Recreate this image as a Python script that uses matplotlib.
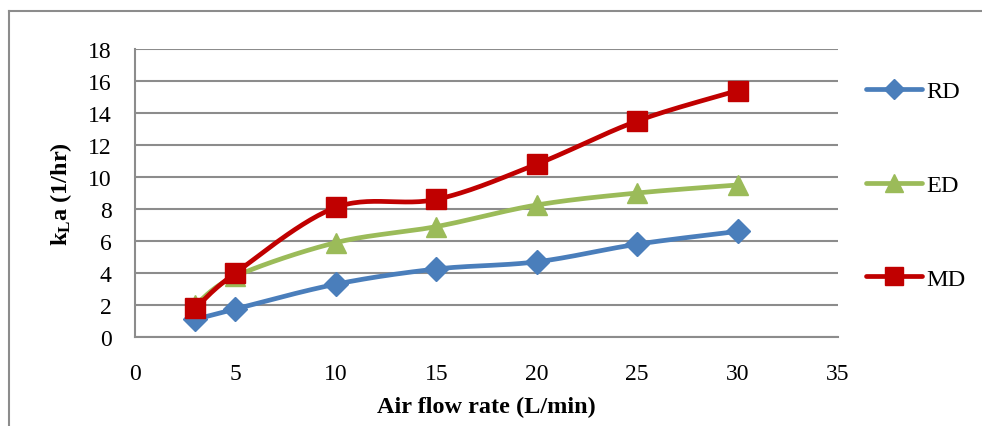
import numpy as np
import matplotlib
matplotlib.use("Agg")
import matplotlib.pyplot as plt
from matplotlib.lines import Line2D

# ---- data ----
air_flow = [3, 5, 10, 15, 20, 25, 30]
rd = [1.1, 1.75, 3.3, 4.25, 4.7, 5.8, 6.6]
ed = [2.0, 3.8, 5.9, 6.9, 8.25, 9.0, 9.5]
md = [1.8, 4.0, 8.1, 8.6, 10.8, 13.5, 15.4]
series_names = ["RD", "ED", "MD"]
x_ticks = [0, 5, 10, 15, 20, 25, 30, 35]
y_ticks = [0, 2, 4, 6, 8, 10, 12, 14, 16, 18]

colors = ["#4A7EBB", "#9BBB59", "#C00000"]
markers = ["D", "^", "s"]
msizes = [12, 15, 15]

plt.rcParams['font.family'] = ['Liberation Serif', 'DejaVu Serif']
plt.rcParams['mathtext.fontset'] = 'custom'
plt.rcParams['mathtext.rm'] = 'Liberation Serif:bold'
plt.rcParams['mathtext.it'] = 'Liberation Serif:bold'
plt.rcParams['mathtext.bf'] = 'Liberation Serif:bold'


def smooth(xs, ys, n=30):
    """Excel-like smoothing: cubic Bezier with Catmull-Rom control points."""
    P = np.column_stack([xs, ys]).astype(float)
    out = []
    m = len(P)
    for i in range(m - 1):
        p0 = P[i - 1] if i > 0 else P[i]
        p1 = P[i]
        p2 = P[i + 1]
        p3 = P[i + 2] if i + 2 < m else P[i + 1]
        c1 = p1 + (p2 - p0) / 6.0
        c2 = p2 - (p3 - p1) / 6.0
        t = np.linspace(0, 1, n)[:, None]
        seg = ((1 - t) ** 3) * p1 + 3 * ((1 - t) ** 2) * t * c1 + 3 * (1 - t) * t ** 2 * c2 + t ** 3 * p2
        out.append(seg if i == 0 else seg[1:])
    S = np.vstack(out)
    return S[:, 0], S[:, 1]


fig = plt.figure(figsize=(9.82, 4.27), dpi=100)
ax = fig.add_axes([135 / 982, (427 - 338) / 427, (838 - 135) / 982, (338 - 50) / 427])

handles = []
for name, ys, c, mk, ms in zip(series_names, [rd, ed, md], colors, markers, msizes):
    sx, sy = smooth(air_flow, ys)
    ax.plot(sx, sy, color=c, lw=3.4, solid_capstyle='round', zorder=3)
    ax.plot(air_flow, ys, linestyle='none', marker=mk, markersize=ms,
            color=c, markeredgecolor=c, zorder=4)
    handles.append(Line2D([], [], color=c, lw=3.4, marker=mk, markersize=ms - 2,
                          markeredgecolor=c, solid_capstyle='round', label=name))

ax.set_xlim(0, 35)
ax.set_ylim(0, 18)
ax.set_xticks(x_ticks)
ax.set_yticks(y_ticks)
ax.tick_params(axis='both', length=0, labelsize=17)
ax.tick_params(axis='x', pad=19)
ax.tick_params(axis='y', pad=17)
ax.grid(axis='y', color='#8c8c8c', lw=1.5, zorder=0)
ax.set_axisbelow(True)
for s in ['top', 'right']:
    ax.spines[s].set_visible(False)
for s in ['left', 'bottom']:
    ax.spines[s].set_color('#8c8c8c')
    ax.spines[s].set_linewidth(1.5)

ax.set_xlabel('Air flow rate (L/min)', fontsize=17.5, fontweight='bold', labelpad=8)
ax.set_ylabel(r'k$_{\mathregular{L}}$a (1/hr)', fontsize=17.5, fontweight='bold', labelpad=10)

fig.legend(handles=handles, loc='center left', bbox_to_anchor=(866 / 982, (427 - 186) / 427),
           frameon=False, fontsize=17.5, handlelength=2.3, handletextpad=0.2,
           labelspacing=2.95, borderpad=0, borderaxespad=0)

# outer chart border (top and left visible)
fig.add_artist(Line2D([9 / 982, 1.0], [1 - 12 / 427, 1 - 12 / 427], color='#8c8c8c', lw=1.5,
                      transform=fig.transFigure))
fig.add_artist(Line2D([9 / 982, 9 / 982], [0, 1 - 12 / 427], color='#8c8c8c', lw=1.5,
                      transform=fig.transFigure))

fig.savefig('out.png', dpi=100)
